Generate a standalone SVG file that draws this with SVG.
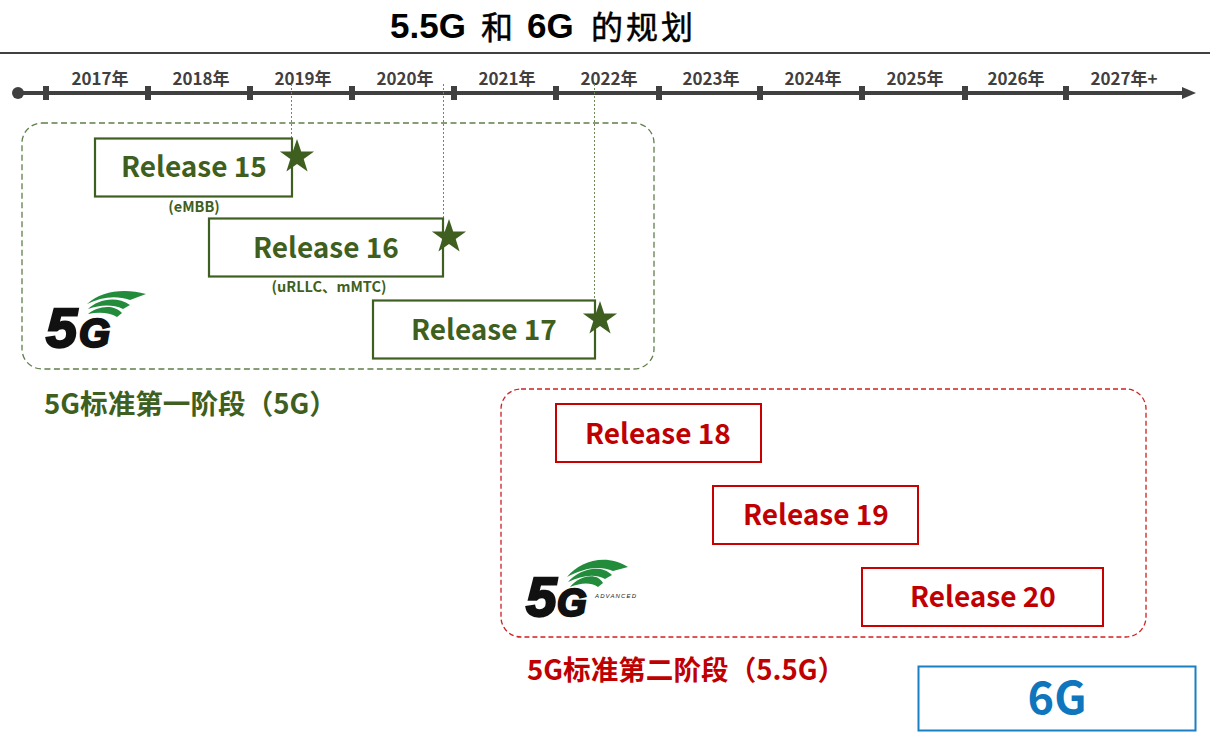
<svg xmlns="http://www.w3.org/2000/svg" width="1210" height="735" viewBox="0 0 1210 735">
<style>
text{font-family:"Noto Sans CJK SC","Noto Sans",sans-serif;font-weight:700}
.yr{font-size:17px;fill:#404040;text-anchor:middle}
.tick{stroke:#404040;stroke-width:6}
.g{fill:#3f5f20}.r{fill:#c00000}
.rg{fill:#fff;stroke:#3f5f20;stroke-width:2.2}
.rr{fill:#fff;stroke:#c80000;stroke-width:2}
.rl{font-size:28px;text-anchor:middle}
.lead{stroke:#6f8a5a;stroke-width:1;stroke-dasharray:2 2;fill:none}
.logo5{font-family:"Liberation Sans",Arial,sans-serif;font-style:italic;font-weight:700;fill:#111;stroke:#111;stroke-width:2.4}
.sm{font-size:14.500px;text-anchor:middle}
.tl{font-family:"Liberation Sans",sans-serif;font-size:35px;font-weight:700;fill:#000}
.tc{font-size:32px;font-weight:400;letter-spacing:3px;fill:#000;stroke:#000;stroke-width:.5}
.wing{fill:#238c3c}
</style>
<defs>
<path id="star" d="M0-18 4.200-5.600H17.100L6.700 2 10.600 14.600 0 7 -10.600 14.600 -6.700 2 -17.100-5.600H-4.200Z" class="g"/>
</defs>
<g id="title">
<text class="tl" x="390" y="38">5.5G</text>
<text class="tc" x="481" y="39">和</text>
<text class="tl" x="527" y="38">6G</text>
<text class="tc" x="591" y="39">的规划</text>
<line x1="0" y1="53" x2="1210" y2="53" stroke="#000" stroke-width="1.600"/>
</g>
<g id="timeline">
<circle cx="18" cy="93" r="6" fill="#404040"/>
<path d="M18 93H1186" stroke="#404040" stroke-width="4"/>
<path d="M1182 87 1196 93 1182 99Z" fill="#404040"/>
<g class="tick">
<path d="M46 86V100M148 86V100M250 86V100M352 86V100M454 86V100M556 86V100M659 86V100M760 86V100M862 86V100M965 86V100M1066 86V100"/>
</g>
<text class="yr" x="100" y="85">2017年</text>
<text class="yr" x="201" y="85">2018年</text>
<text class="yr" x="303" y="85">2019年</text>
<text class="yr" x="405" y="85">2020年</text>
<text class="yr" x="507" y="85">2021年</text>
<text class="yr" x="609" y="85">2022年</text>
<text class="yr" x="711" y="85">2023年</text>
<text class="yr" x="813" y="85">2024年</text>
<text class="yr" x="915" y="85">2025年</text>
<text class="yr" x="1016" y="85">2026年</text>
<text class="yr" x="1124" y="85">2027年+</text>
</g>
<g id="connectors">
<path class="lead" d="M291.500 84V139"/>
<path class="lead" d="M443.500 84V219"/>
<path class="lead" d="M594.500 84V301"/>
</g>
<g id="phase1">
<rect x="22" y="123" width="632" height="246" rx="20" fill="none" stroke="#5f7f4a" stroke-width="1.300" stroke-dasharray="6 3.500"/>
<text class="g" x="44" y="414" font-size="27.600">5G标准第一阶段（5G）</text>
</g>
<g id="r15"><rect class="rg" x="95" y="138.500" width="197" height="58"/><text class="g rl" x="194" y="177">Release 15</text><use href="#star" x="297" y="157"/><text class="g sm" x="194" y="212">(eMBB)</text></g>
<g id="r16"><rect class="rg" x="209" y="218.500" width="234" height="58"/><text class="g rl" x="326" y="258">Release 16</text><use href="#star" x="449" y="237"/><text class="g sm" x="329" y="292">(uRLLC、mMTC)</text></g>
<g id="r17"><rect class="rg" x="373" y="300.500" width="222" height="58"/><text class="g rl" x="484" y="340">Release 17</text><use href="#star" x="600" y="319"/></g>
<g id="logo5g">
<text class="logo5" x="46" y="347" font-size="56">5</text>
<text class="logo5" x="79" y="347" font-size="40">G</text>
<path class="wing" d="M87 304C101 291 124 288 146 294L130 300C116 295 101 297 87 304Z"/>
<path class="wing" d="M88 309C97 300 116 295 130 305L123 309C112 304 100 305 88 309Z"/>
<path class="wing" d="M88 314C96 307 113 303 122 313L117 317C109 312 98 312 88 314Z"/>
</g>
<g id="phase2">
<rect x="501" y="389" width="645" height="248" rx="20" fill="none" stroke="#d02020" stroke-width="1.300" stroke-dasharray="5 3"/>
<text class="r" x="527" y="680" font-size="27.600">5G标准第二阶段（5.5G）</text>
</g>
<g id="r18"><rect class="rr" x="556" y="404" width="205" height="58"/><text class="r rl" x="658" y="444">Release 18</text></g>
<g id="r19"><rect class="rr" x="713" y="486" width="205" height="58"/><text class="r rl" x="816" y="525">Release 19</text></g>
<g id="r20"><rect class="rr" x="862" y="568" width="241" height="58"/><text class="r rl" x="983" y="607">Release 20</text></g>
<g id="logo55g">
<text class="logo5" x="526" y="616" font-size="55">5</text>
<text class="logo5" x="557" y="616" font-size="38">G</text>
<path class="wing" d="M567 577C580 561 606 553 628 567L613 571C600 565 583 568 567 577Z"/>
<path class="wing" d="M568 582C578 570 600 563 612 575L605 579C594 573 581 576 568 582Z"/>
<path class="wing" d="M570 587C578 577 596 571 603 583L598 587C590 582 581 583 570 587Z"/>
<text x="595" y="598" font-size="6" style="font-family:'Liberation Sans',sans-serif;font-weight:400;font-style:italic" fill="#222" textLength="41">ADVANCED</text>
</g>
<g id="n6g"><rect x="918.500" y="666.500" width="277" height="64" fill="#fff" stroke="#1b7fc4" stroke-width="2"/><text x="1057" y="714" font-size="45" text-anchor="middle" fill="#0f75bd">6G</text></g>
</svg>
